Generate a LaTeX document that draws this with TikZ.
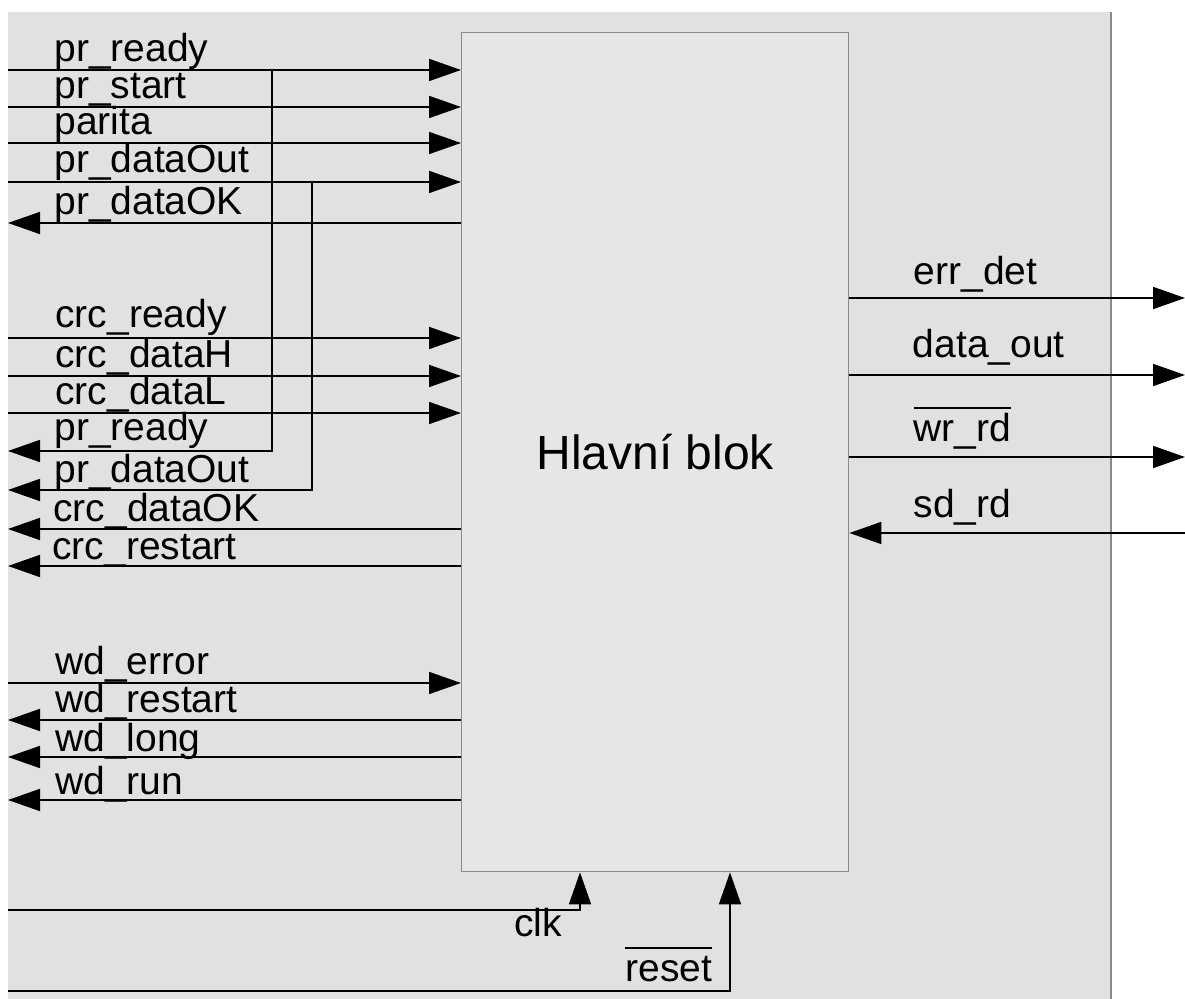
\documentclass[tikz,border=0pt]{standalone}
\usepackage{fontspec}
\setmainfont{Liberation Sans}
\newfontfamily\sigfont{Liberation Sans}
\usepackage{xcolor}
\definecolor{cBack}{HTML}{E1E1E1}
\definecolor{cBlock}{HTML}{E6E6E6}
\definecolor{cEdge}{HTML}{8A8A8A}
\usetikzlibrary{positioning,arrows.meta,calc}
\tikzset{
  sig/.style={-{Triangle[length=16pt,width=11pt]},line width=0.9pt,draw=black},
  sig-label/.style={anchor=base west,inner sep=0pt,
    font=\sigfont\fontsize{19.5}{22}\selectfont},
  main-block/.style={draw=cEdge,fill=cBlock,line width=0.7pt,anchor=north west,
    minimum width=193.5pt,minimum height=419.5pt,inner sep=0pt,
    font=\fontsize{24}{28}\selectfont},
}
% negovany signal: pruh nad textem
\newcommand{\negsig}[1]{\vbox{\hrule height 1pt\kern 2.5pt\hbox{\vphantom{Hd}#1}}}

\begin{document}
\begin{tikzpicture}[x=0.5pt,y=-0.5pt]
  \useasboundingbox (0,0) rectangle (1185,999);
  \fill[white] (0,0) rectangle (1185,999);
  \fill[cBack] (8,12) rectangle (1111,999);
  \draw[cEdge,line width=1pt] (1111,12) -- (1111,999);

  \node[main-block] (blk) at (461,32) {Hlavní blok};

  % vstupy a vystupy vlevo
  \coordinate (l-prready) at (8,70);
  \coordinate (l-prstart) at (8,107);
  \coordinate (l-parita) at (8,143);
  \coordinate (l-prdataout) at (8,182);
  \coordinate (l-prdataok) at (8,223);
  \coordinate (l-crcready) at (8,338);
  \coordinate (l-crcdatah) at (8,376);
  \coordinate (l-crcdatal) at (8,413);
  \coordinate (l-prready2) at (8,451);
  \coordinate (l-prdataout2) at (8,490);
  \coordinate (l-crcdataok) at (8,529);
  \coordinate (l-crcrestart) at (8,566);
  \coordinate (l-wderror) at (8,683);
  \coordinate (l-wdrestart) at (8,720);
  \coordinate (l-wdlong) at (8,757);
  \coordinate (l-wdrun) at (8,800);
  \coordinate (tapA) at (272,70);
  \coordinate (tapB) at (312,182);

  \draw[sig] (l-prready) -- (l-prready -| blk.west);
  \draw[sig] (l-prstart) -- (l-prstart -| blk.west);
  \draw[sig] (l-parita) -- (l-parita -| blk.west);
  \draw[sig] (l-prdataout) -- (l-prdataout -| blk.west);
  \draw[sig] (l-prdataok -| blk.west) -- (l-prdataok);
  \draw[sig] (l-crcready) -- (l-crcready -| blk.west);
  \draw[sig] (l-crcdatah) -- (l-crcdatah -| blk.west);
  \draw[sig] (l-crcdatal) -- (l-crcdatal -| blk.west);
  \draw[sig] (tapA) |- (l-prready2);
  \draw[sig] (tapB) |- (l-prdataout2);
  \draw[sig] (l-crcdataok -| blk.west) -- (l-crcdataok);
  \draw[sig] (l-crcrestart -| blk.west) -- (l-crcrestart);
  \draw[sig] (l-wderror) -- (l-wderror -| blk.west);
  \draw[sig] (l-wdrestart -| blk.west) -- (l-wdrestart);
  \draw[sig] (l-wdlong -| blk.west) -- (l-wdlong);
  \draw[sig] (l-wdrun -| blk.west) -- (l-wdrun);

  \node[sig-label] (t-prready) at ($(l-prready)+(46,-8)$) {pr\_ready};
  \node[sig-label] (t-prstart) at ($(l-prstart)+(46,-8)$) {pr\_start};
  \node[sig-label] (t-parita) at ($(l-parita)+(46,-8)$) {parita};
  \node[sig-label] (t-prdataout) at ($(l-prdataout)+(46,-9)$) {pr\_dataOut};
  \node[sig-label] (t-prdataok) at ($(l-prdataok)+(46,-8)$) {pr\_dataOK};
  \node[sig-label] (t-crcready) at ($(l-crcready)+(47,-10)$) {crc\_ready};
  \node[sig-label] (t-crcdatah) at ($(l-crcdatah)+(47,-8)$) {crc\_dataH};
  \node[sig-label] (t-crcdatal) at ($(l-crcdatal)+(47,-8)$) {crc\_dataL};
  \node[sig-label] (t-prready2) at ($(l-prready2)+(46,-10)$) {pr\_ready};
  \node[sig-label] (t-prdataout2) at ($(l-prdataout2)+(46,-7)$) {pr\_dataOut};
  \node[sig-label] (t-crcdataok) at ($(l-crcdataok)+(45,-7)$) {crc\_dataOK};
  \node[sig-label] (t-crcrestart) at ($(l-crcrestart)+(44,-6)$) {crc\_restart};
  \node[sig-label] (t-wderror) at ($(l-wderror)+(47,-8)$) {wd\_error};
  \node[sig-label] (t-wdrestart) at ($(l-wdrestart)+(47,-7)$) {wd\_restart};
  \node[sig-label] (t-wdlong) at ($(l-wdlong)+(47,-5)$) {wd\_long};
  \node[sig-label] (t-wdrun) at ($(l-wdrun)+(47,-5)$) {wd\_run};

  % vpravo
  \coordinate (r-errdet) at (1185,298);
  \coordinate (r-dataout) at (1185,375);
  \coordinate (r-wrrd) at (1185,457);
  \coordinate (r-sdrd) at (1185,533);
  \draw[sig] (r-errdet -| blk.east) -- (r-errdet);
  \draw[sig] (r-dataout -| blk.east) -- (r-dataout);
  \draw[sig] (r-wrrd -| blk.east) -- (r-wrrd);
  \draw[sig] (r-sdrd) -- (r-sdrd -| blk.east);
  \node[sig-label] (t-errdet) at ($(r-errdet -| blk.east)+(64,-13)$) {err\_det};
  \node[sig-label] (t-dataout) at ($(r-dataout -| blk.east)+(63,-17)$) {data\_out};
  \node[sig-label] (t-wrrd) at ($(r-wrrd -| blk.east)+(64,-15)$) {\negsig{wr\_rd}};
  \node[sig-label] (t-sdrd) at ($(r-sdrd -| blk.east)+(64,-15)$) {sd\_rd};

  % hodiny a reset zespodu
  \coordinate (b-clk) at (8,910);
  \coordinate (b-reset) at (8,991);
  \draw[sig] (b-clk) -| ($(blk.south west)+(119,0)$);
  \draw[sig] (b-reset) -| ($(blk.south west)+(269,0)$);
  \node[sig-label] (t-clk) at (514,937) {clk};
  \node[sig-label] (t-reset) at (625,982) {\negsig{reset}};
\end{tikzpicture}
\end{document}
